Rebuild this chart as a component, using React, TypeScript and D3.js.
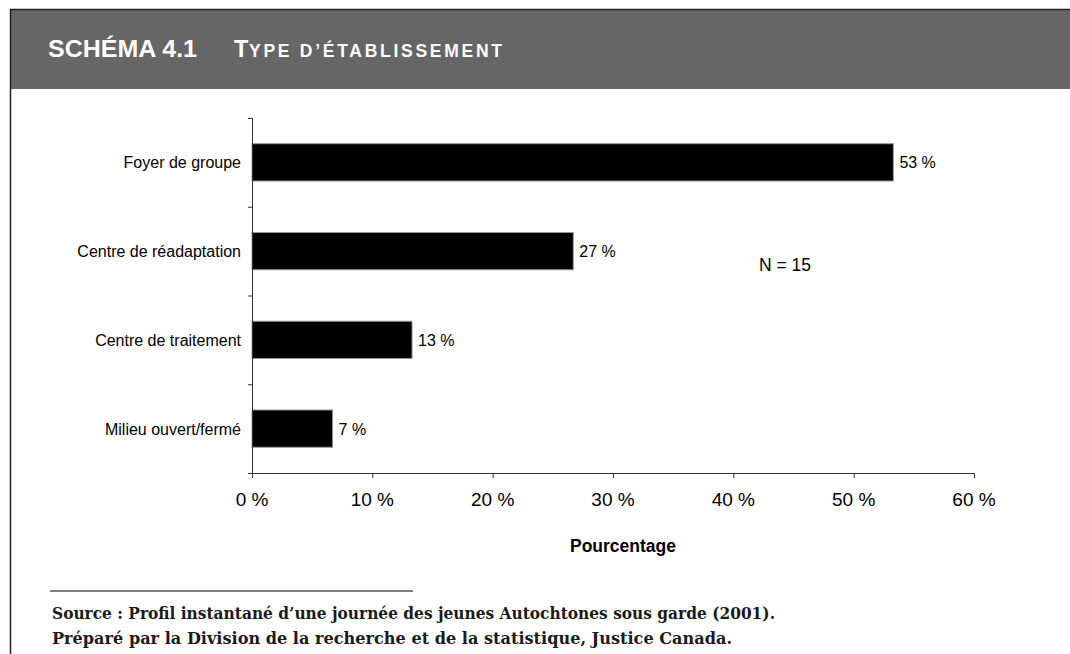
import React from "react";
import * as d3 from "d3";

const categories = ["Foyer de groupe", "Centre de réadaptation", "Centre de traitement", "Milieu ouvert/fermé"];
const values = [53.3, 26.7, 13.3, 6.7];
const valueLabels = ["53 %", "27 %", "13 %", "7 %"];
const xTicks = [0, 10, 20, 30, 40, 50, 60];
const titleNum = "SCHÉMA 4.1";
const titleCap = "T";
const titleRest = "YPE D’ÉTABLISSEMENT";
const axisTitle = "Pourcentage";
const note = "N = 15";
const sourceLines = [
  "Source : Profil instantané d’une journée des jeunes Autochtones sous garde (2001).",
  "Préparé par la Division de la recherche et de la statistique, Justice Canada.",
];
const sourceWidths = [723, 680];

const W = 1070;
const H = 654;
const sans = "'Liberation Sans', Arial, sans-serif";

export default function App() {
  const x = d3.scaleLinear().domain([0, 60]).range([252, 974]);
  const y = d3
    .scaleBand<string>()
    .domain(categories)
    .range([118, 473])
    .paddingInner(0.58)
    .paddingOuter(0.29);
  const step = y.step();
  const yTop = 118;
  const yBottom = 473;
  const boundaries = d3.range(categories.length + 1).map((i) => yTop + i * step);

  return (
    <svg
      width={W}
      height={H}
      style={{ position: "absolute", left: 0, top: 0, background: "#fff" }}
    >
      {/* header */}
      <rect x={10} y={10} width={W - 10} height={79} fill="#666666" />
      <line x1={10} y1={9.5} x2={W} y2={9.5} stroke="#222" strokeWidth={1.5} />
      <line x1={10.5} y1={9} x2={10.5} y2={H} stroke="#222" strokeWidth={1.5} />
      <text x={48} y={57} fill="#fff" fontFamily={sans} fontWeight="bold" fontSize={23.5} textLength={149} lengthAdjust="spacingAndGlyphs">
        {titleNum}
      </text>
      <text x={234} y={57} fill="#fff" fontFamily={sans} fontWeight="bold" fontSize={23.5}>
        {titleCap}
      </text>
      <text x={249} y={57} fill="#fff" fontFamily={sans} fontWeight="bold" fontSize={17.5} textLength={253} lengthAdjust="spacing">
        {titleRest}
      </text>

      {/* bars */}
      {categories.map((c, i) => (
        <g key={c}>
          <rect
            x={x(0)}
            y={y(c)!}
            width={x(values[i]) - x(0)}
            height={y.bandwidth()}
            fill="#000"
            stroke="#999"
            strokeWidth={1}
          />
          <text
            x={x(values[i]) + 6}
            y={y(c)! + y.bandwidth() / 2 + 6}
            fontFamily={sans}
            fontSize={16}
            fill="#000"
          >
            {valueLabels[i]}
          </text>
          <text
            x={241}
            y={y(c)! + y.bandwidth() / 2 + 6}
            fontFamily={sans}
            fontSize={16}
            textAnchor="end"
            fill="#000"
          >
            {c}
          </text>
        </g>
      ))}

      {/* y axis */}
      <line x1={252.5} y1={yTop} x2={252.5} y2={yBottom} stroke="#333" strokeWidth={1} />
      {boundaries.map((b, i) => (
        <line key={i} x1={248} y1={b + 0.5} x2={252.5} y2={b + 0.5} stroke="#333" strokeWidth={1} />
      ))}

      {/* x axis */}
      <line x1={252} y1={yBottom + 0.5} x2={x(60)} y2={yBottom + 0.5} stroke="#333" strokeWidth={1} />
      {xTicks.map((t) => (
        <g key={t}>
          <line x1={x(t) + 0.5} y1={yBottom} x2={x(t) + 0.5} y2={yBottom + 5} stroke="#333" strokeWidth={1} />
          <text x={x(t)} y={506} fontFamily={sans} fontSize={19} textAnchor="middle" fill="#000">
            {`${t} %`}
          </text>
        </g>
      ))}
      <text x={623} y={552} fontFamily={sans} fontSize={17.5} fontWeight="bold" textAnchor="middle" fill="#000">
        {axisTitle}
      </text>
      <text x={759} y={271} fontFamily={sans} fontSize={17.5} fill="#000">
        {note}
      </text>

      {/* source */}
      <line x1={50} y1={591} x2={413} y2={591} stroke="#000" strokeWidth={1.2} />
      {sourceLines.map((s, i) => (
        <text
          key={i}
          x={52}
          y={619 + i * 24.5}
          fontFamily="'DejaVu Serif', serif"
          fontWeight="bold"
          fontSize={16}
          fill="#1a1a1a"
          textLength={sourceWidths[i]}
          lengthAdjust="spacingAndGlyphs"
        >
          {s}
        </text>
      ))}
    </svg>
  );
}
